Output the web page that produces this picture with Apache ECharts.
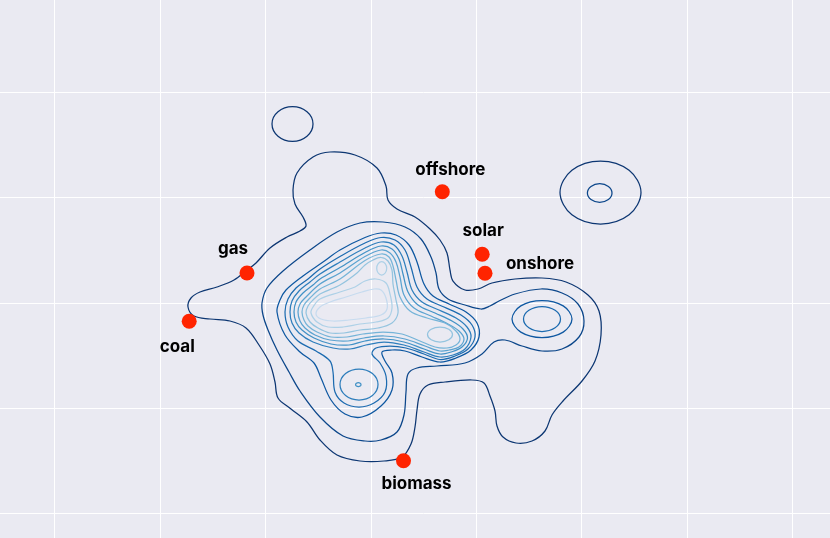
<!DOCTYPE html>
<html>
<head>
<meta charset="utf-8">
<title>Energy sources density</title>
<script src="https://cdn.jsdelivr.net/npm/echarts@6/dist/echarts.min.js"></script>
<style>
  html, body { margin: 0; padding: 0; background: #eaeaf2; overflow: hidden; width: 830px; height: 538px; }
  /* the chart box is a bit larger than the window so the grid runs off every edge */
  #main { position: absolute; left: -51px; top: -13px; width: 949px; height: 632px; }
</style>
</head>
<body>
<div id="main"></div>
<script>
// labelled points
var sourceNames = ['offshore', 'solar', 'onshore', 'gas', 'coal', 'biomass'];
var sourceX = [44.23, 48.22, 48.5, 24.7, 18.92, 40.35];
var sourceY = [34.63, 28.37, 26.47, 26.5, 21.68, 7.73];

// density contours, each one a closed ring (level 1 = lowest)
var L1_main = [[25.6,27.5],[24.7,26.8],[23.4,25.8],[21.7,25.1],[20.0,24.6],[19.1,24.0],[18.8,23.1],[19.4,22.2],[21.0,21.9],[23.0,21.7],[24.6,21.0],[25.9,19.3],[27.0,17.4],[27.5,15.6],[27.8,14.0],[29.1,12.9],[30.7,11.6],[32.0,9.8],[33.7,8.3],[36.0,7.7],[38.4,7.7],[40.2,8.1],[41.1,9.4],[41.5,11.1],[41.7,12.8],[42.0,14.4],[42.8,15.3],[44.5,15.6],[47.2,15.8],[48.4,15.5],[49.0,14.2],[49.5,12.7],[49.7,11.2],[50.3,10.1],[51.6,9.5],[53.2,9.7],[54.5,10.7],[55.2,12.3],[56.3,13.7],[58.2,15.7],[59.5,17.7],[60.1,20.3],[59.9,22.7],[58.8,24.3],[56.6,25.6],[54.2,26.0],[51.5,25.9],[49.2,25.5],[47.8,24.9],[46.5,24.8],[45.3,25.7],[45.0,26.8],[44.7,28.5],[44.0,29.8],[43.0,30.9],[41.5,32.1],[39.7,32.9],[38.8,33.8],[38.6,35.2],[37.7,37.0],[35.5,38.3],[33.0,38.6],[31.3,38.1],[29.7,36.5],[29.3,34.8],[29.5,33.4],[30.3,32.1],[30.6,31.2],[30.0,30.7],[28.7,30.1],[27.0,29.0]];
var L1_topLeft = [[31.3,41.4],[30.7,40.18],[29.25,39.67],[27.8,40.18],[27.2,41.4],[27.8,42.62],[29.25,43.13],[30.7,42.62]];
var L1_farRight = [[64.1,34.55],[62.91,32.32],[60.05,31.4],[57.19,32.32],[56.0,34.55],[57.19,36.78],[60.05,37.7],[62.91,36.78]];
var L2_farRight = [[61.2,34.5],[60.84,33.84],[59.97,33.57],[59.1,33.84],[58.74,34.5],[59.1,35.16],[59.97,35.43],[60.84,35.16]];
var L2_main = [[26.2,23.5],[26.7,25.0],[28.3,26.7],[31.0,28.8],[33.7,30.6],[36.0,31.5],[38.3,31.6],[40.5,31.1],[42.1,29.9],[43.1,28.1],[43.6,26.5],[43.9,24.9],[44.8,23.9],[46.5,23.3],[48.1,22.9],[49.0,23.2],[49.9,23.7],[51.5,24.4],[54.1,24.9],[56.2,24.5],[57.8,23.4],[58.4,21.7],[57.9,20.1],[56.2,18.9],[54.2,18.7],[52.2,19.2],[50.5,19.8],[49.4,19.6],[48.2,18.4],[46.5,17.5],[43.7,17.2],[41.7,17.0],[40.8,16.4],[40.6,14.6],[40.4,12.3],[39.7,10.6],[38.1,9.8],[36.5,9.7],[34.3,10.2],[32.0,12.1],[30.0,14.7],[28.9,16.6],[27.7,18.8],[26.8,20.8],[26.3,22.3]];
var L3_main = [[27.7,22.6],[28.0,23.8],[28.6,24.8],[30.3,26.2],[32.3,27.6],[34.0,28.8],[36.5,30.05],[38.1,30.5],[39.6,30.3],[40.9,29.3],[41.7,27.6],[42.4,25.4],[43.3,24.2],[44.9,23.4],[46.6,22.6],[47.7,21.5],[47.9,20.1],[47.1,18.8],[45.6,18.0],[44.0,17.6],[42.2,18.1],[40.5,18.7],[39.2,18.8],[38.2,18.6],[38.5,17.7],[39.2,16.5],[39.2,14.8],[38.1,13.2],[36.2,12.1],[34.5,12.4],[33.1,13.8],[32.1,16.0],[31.4,17.5],[30.0,18.6],[28.5,20.3]];
var L3_rightLobe = [[57.2,21.9],[56.32,20.59],[54.2,20.05],[52.08,20.59],[51.2,21.9],[52.08,23.21],[54.2,23.75],[56.32,23.21]];
var L4_main = [[28.5,22.6],[28.8,23.9],[29.6,25.0],[30.8,25.9],[32.0,26.9],[34.0,28.15],[36.5,29.5],[38.1,30.05],[39.5,29.8],[40.5,28.8],[41.1,27.1],[41.7,25.1],[42.7,23.9],[44.4,23.1],[46.1,22.3],[47.2,21.3],[47.5,20.1],[46.8,18.9],[45.5,18.2],[44.0,17.85],[42.4,18.4],[40.6,19.0],[39.0,19.2],[37.6,19.0],[37.2,18.4],[38.0,17.5],[38.6,16.2],[38.5,14.6],[37.4,13.5],[35.9,13.1],[34.4,13.5],[33.5,14.6],[33.3,16.6],[33.0,17.7],[31.6,18.7],[29.8,19.7],[28.8,21.1]];
var L4_rightLobe = [[56.05,21.9],[55.51,21.02],[54.2,20.65],[52.89,21.02],[52.35,21.9],[52.89,22.78],[54.2,23.15],[55.51,22.78]];
var L5_main = [[29.0,22.6],[29.2,23.7],[29.9,24.7],[31.0,25.6],[32.0,26.4],[34.0,27.6],[36.5,29.0],[38.1,29.6],[39.4,29.3],[40.2,28.2],[40.7,26.6],[41.2,24.8],[42.2,23.6],[43.9,22.8],[45.6,22.0],[46.7,21.1],[47.1,20.1],[46.5,18.9],[45.3,18.3],[44.0,18.1],[42.4,18.6],[40.4,19.3],[38.4,19.6],[36.6,19.3],[35.0,18.9],[33.3,19.0],[31.3,19.6],[29.9,20.5],[29.2,21.5]];
var L5_lowLobe = [[37.8,15.35],[37.24,14.25],[35.9,13.8],[34.56,14.25],[34.0,15.35],[34.56,16.45],[35.9,16.9],[37.24,16.45]];
var L6_main = [[29.4,22.6],[29.6,23.6],[30.3,24.5],[31.3,25.3],[32.0,25.9],[34.0,27.05],[36.5,28.55],[38.1,29.2],[39.2,28.9],[39.9,27.9],[40.3,26.4],[40.8,24.6],[41.8,23.3],[43.5,22.5],[45.2,21.7],[46.3,20.9],[46.75,20.0],[46.2,19.1],[45.1,18.6],[44.0,18.4],[42.4,18.9],[40.4,19.6],[38.4,19.9],[36.5,19.7],[34.9,19.3],[33.1,19.4],[31.4,20.0],[30.2,20.8],[29.6,21.6]];
var L6_lowLobe = [[36.1,15.33],[36.02,15.19],[35.83,15.13],[35.64,15.19],[35.56,15.33],[35.64,15.47],[35.83,15.53],[36.02,15.47]];
var L7_main = [[29.8,22.6],[30.0,23.4],[30.6,24.1],[32.0,25.4],[34.0,26.5],[36.5,28.15],[38.1,28.8],[39.0,28.5],[39.6,27.6],[40.0,26.1],[40.4,24.3],[41.4,23.0],[43.1,22.2],[44.8,21.4],[45.9,20.7],[46.4,19.9],[45.9,19.1],[44.9,18.8],[44.0,18.7],[42.5,19.2],[40.5,19.9],[38.4,20.2],[36.4,20.0],[34.8,19.7],[33.0,19.8],[31.5,20.3],[30.5,21.0],[30.0,21.7]];
var L8_main = [[30.2,22.6],[30.4,23.3],[31.0,24.0],[32.0,24.9],[34.0,25.9],[36.5,27.75],[38.1,28.4],[38.9,28.1],[39.3,27.2],[39.6,25.8],[40.0,24.1],[41.0,22.7],[42.7,22.0],[44.5,21.5],[45.6,20.7],[46.0,19.9],[45.6,19.3],[44.7,19.0],[43.5,19.1],[42.0,19.7],[40.2,20.4],[38.3,20.6],[36.3,20.4],[34.7,20.1],[33.1,20.1],[31.7,20.6],[30.8,21.2],[30.4,21.8]];
var L9_main = [[30.6,22.5],[30.8,23.2],[31.3,23.8],[32.0,24.4],[34.0,25.3],[35.7,26.5],[36.5,27.3],[37.3,27.8],[38.1,28.05],[38.8,27.7],[39.2,26.8],[39.3,25.4],[39.6,23.8],[39.8,22.5],[39.2,21.5],[37.8,21.0],[36.0,20.8],[34.4,20.5],[33.0,20.5],[31.8,21.0],[31.0,21.6]];
var L9_sideLobe = [[45.25,20.35],[44.88,19.82],[44.0,19.6],[43.12,19.82],[42.75,20.35],[43.12,20.88],[44.0,21.1],[44.88,20.88]];
var L10_main = [[31.1,22.5],[31.3,23.1],[32.0,23.9],[34.0,24.6],[35.5,25.1],[36.5,25.7],[37.6,25.9],[38.6,25.5],[39.0,24.4],[39.2,23.0],[38.8,22.0],[37.6,21.6],[36.0,21.4],[34.3,21.1],[32.8,21.1],[31.7,21.6]];
var L10_topPeak = [[38.67,26.97],[38.52,26.5],[38.17,26.3],[37.82,26.5],[37.67,26.97],[37.82,27.44],[38.17,27.64],[38.52,27.44]];
var L11_main = [[31.6,22.4],[32.0,23.1],[33.0,23.6],[34.6,24.1],[36.2,24.6],[37.4,24.9],[38.1,24.8],[38.6,24.0],[38.7,22.9],[38.1,22.3],[36.6,22.0],[34.9,21.8],[33.3,21.7],[32.1,21.9]];

var contours = [
  { level: 1, pts: L1_main }, { level: 1, pts: L1_topLeft }, { level: 1, pts: L1_farRight },
  { level: 2, pts: L2_main }, { level: 2, pts: L2_farRight },
  { level: 3, pts: L3_main }, { level: 3, pts: L3_rightLobe },
  { level: 4, pts: L4_main }, { level: 4, pts: L4_rightLobe },
  { level: 5, pts: L5_main }, { level: 5, pts: L5_lowLobe },
  { level: 6, pts: L6_main }, { level: 6, pts: L6_lowLobe },
  { level: 7, pts: L7_main },
  { level: 8, pts: L8_main },
  { level: 9, pts: L9_main }, { level: 9, pts: L9_sideLobe },
  { level: 10, pts: L10_main }, { level: 10, pts: L10_topPeak },
  { level: 11, pts: L11_main }
];

// reversed Blues: dark navy outside, pale inside
var levelColors = ['#0c3672', '#0b468a', '#0d57a1', '#1c6bb0', '#2e7ebc', '#4292c6',
                   '#5ba3d0', '#75b4d8', '#94c4df', '#aed1e7', '#c6dbef'];

// label offset from the dot centre, px
var labelOffsets = [[8, -22], [1, -23], [55, -9], [-14, -24], [-12, 26], [13, 23]];

var myChart = echarts.init(document.getElementById('main'));

myChart.setOption({
  backgroundColor: '#eaeaf2',
  animation: false,
  grid: { left: 0, right: 0, top: 0, bottom: 0 },
  xAxis: [
    { type: 'value', min: -5.1, max: 89.8, show: false },
    {
      type: 'value', min: -1, max: 8, interval: 1,
      axisLine: { show: false }, axisTick: { show: false }, axisLabel: { show: false },
      splitLine: { show: true, lineStyle: { color: '#ffffff', width: 1 } }
    }
  ],
  yAxis: [
    { type: 'value', min: -8.1, max: 55.1, show: false },
    {
      type: 'value', min: -1, max: 5, interval: 1,
      axisLine: { show: false }, axisTick: { show: false }, axisLabel: { show: false },
      splitLine: { show: true, lineStyle: { color: '#ffffff', width: 1 } }
    }
  ],
  series: [
    {
      type: 'custom',
      xAxisIndex: 0,
      yAxisIndex: 0,
      silent: true,
      data: contours.map(function (c) { return c.pts[0]; }),
      renderItem: function (params, api) {
        var c = contours[params.dataIndex];
        var points = c.pts.map(function (p) { return api.coord(p); });
        return {
          type: 'polygon',
          shape: { points: points, smooth: 0.35 },
          style: { fill: 'none', stroke: levelColors[c.level - 1], lineWidth: 1.25 }
        };
      }
    },
    {
      type: 'scatter',
      xAxisIndex: 0,
      yAxisIndex: 0,
      symbolSize: 15,
      itemStyle: { color: '#ff2400', opacity: 1 },
      z: 5,
      data: sourceNames.map(function (n, i) {
        return {
          name: n,
          value: [sourceX[i], sourceY[i]],
          label: { offset: labelOffsets[i] }
        };
      }),
      label: {
        show: true,
        position: 'inside',
        formatter: '{b}',
        color: '#000000',
        fontFamily: 'Inter',
        fontWeight: 'bold',
        fontSize: 17
      }
    }
  ]
});
</script>
</body>
</html>
